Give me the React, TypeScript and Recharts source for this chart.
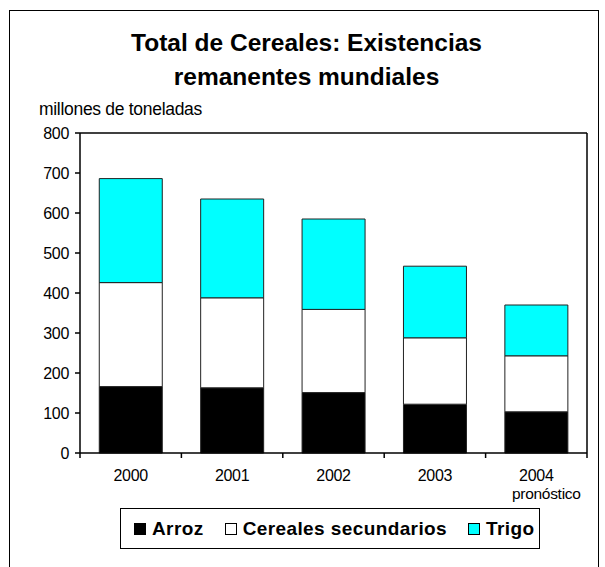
import React from 'react'
import { BarChart, Bar, XAxis, YAxis, ReferenceLine } from 'recharts'

const years = ['2000', '2001', '2002', '2003', '2004']
const arroz = [166, 163, 151, 122, 103]
const secundarios = [260, 225, 208, 166, 140]
const trigo = [260, 247, 226, 179, 127]
const yTicks = [0, 100, 200, 300, 400, 500, 600, 700, 800]

const series = [
    { key: 'arroz', name: 'Arroz', fill: '#000000' },
    { key: 'secundarios', name: 'Cereales secundarios', fill: '#ffffff' },
    { key: 'trigo', name: 'Trigo', fill: '#00ffff' },
]

const data = years.map((y, i) => ({
    year: y,
    pos: i + 0.5,
    arroz: arroz[i],
    secundarios: secundarios[i],
    trigo: trigo[i],
}))

const FONT = '"Liberation Sans", Arial, sans-serif'

// etiqueta del año + marcas en los límites de cada categoría
function YearTick({ x, y, payload, index }: any) {
    const half = payload.offset ?? 0
    const last = index === years.length - 1
    return (
        <g>
            <line x1={x - half} x2={x - half} y1={y} y2={y + 5} stroke="#000" strokeWidth={1.5} />
            {last && <line x1={x + half} x2={x + half} y1={y} y2={y + 5} stroke="#000" strokeWidth={1.5} />}
            <text x={x} y={y + 28} textAnchor="middle" fontSize={16} letterSpacing={-0.3} fontFamily={FONT} fill="#000">
                {payload.value}
            </text>
            {payload.value === '2004' && (
                <text x={x + 10} y={y + 46} textAnchor="middle" fontSize={15.5} letterSpacing={-0.3} fontFamily={FONT} fill="#000">
                    pronóstico
                </text>
            )}
        </g>
    )
}

export default function App() {
    return (
        <div style={{ position: 'absolute', left: 0, top: 0, width: 605, height: 567, background: '#fff', overflow: 'hidden', fontFamily: FONT }}>
            {/* marco exterior */}
            <div style={{ position: 'absolute', left: 9, top: 10, width: 588, height: 600, border: '1px solid #000' }} />

            <div style={{ position: 'absolute', left: 4, top: 26, width: 605, textAlign: 'center', fontSize: 24.5, fontWeight: 'bold', lineHeight: '34px' }}>
                Total de Cereales: Existencias<br />remanentes mundiales
            </div>
            <div style={{ position: 'absolute', left: 39, top: 99, fontSize: 17.5, letterSpacing: -0.3, lineHeight: 'normal' }}>
                millones de toneladas
            </div>

            <div style={{ position: 'absolute', left: 0, top: 0 }}>
                <BarChart
                    width={605}
                    height={567}
                    data={data}
                    margin={{ top: 133, right: 18, bottom: 74, left: 20 }}
                    barCategoryGap="19%"
                >
                    <XAxis
                        xAxisId={0}
                        dataKey="year"
                        axisLine={false}
                        tickLine={false}
                        tickSize={0}
                        tickMargin={0}
                        tick={YearTick}
                        interval={0}
                        height={40}
                    />
                    <XAxis xAxisId={1} type="number" dataKey="pos" domain={[0, 5]} height={0} hide />
                    <YAxis
                        yAxisId={0}
                        domain={[0, 800]}
                        ticks={yTicks}
                        width={60}
                        axisLine={{ stroke: '#000', strokeWidth: 1.5 }}
                        tickLine={{ stroke: '#000', strokeWidth: 1.5 }}
                        tickSize={5}
                        tickMargin={6}
                        tick={{ fontSize: 16, fontFamily: FONT, fill: '#000', letterSpacing: -0.3 }}
                    />
                    {series.map((s) => (
                        <Bar
                            key={s.key}
                            dataKey={s.key}
                            name={s.name}
                            stackId="a"
                            xAxisId={0}
                            yAxisId={0}
                            fill={s.fill}
                            stroke="#222"
                            strokeWidth={1}
                            isAnimationActive={false}
                        />
                    ))}
                    {/* marco del área de trazado */}
                    <ReferenceLine y={0} xAxisId={0} yAxisId={0} stroke="#000" strokeWidth={1.5} />
                    <ReferenceLine y={800} xAxisId={0} yAxisId={0} stroke="#000" strokeWidth={1.5} />
                    <ReferenceLine x={5} xAxisId={1} yAxisId={0} stroke="#000" strokeWidth={1.5} />
                </BarChart>
            </div>

            {/* leyenda */}
            <div style={{ position: 'absolute', left: 120, top: 508, width: 405, height: 39, border: '1px solid #000', display: 'flex', alignItems: 'center', paddingLeft: 13, boxSizing: 'content-box', gap: 21, fontSize: 19, fontWeight: 'bold', letterSpacing: 0.4 }}>
                {series.map((s) => (
                    <div key={s.key} style={{ display: 'flex', alignItems: 'center' }}>
                        <span style={{ display: 'inline-block', width: 10, height: 10, background: s.fill, border: '1px solid #000', marginRight: 6 }} />
                        <span>{s.name}</span>
                    </div>
                ))}
            </div>
        </div>
    )
}
